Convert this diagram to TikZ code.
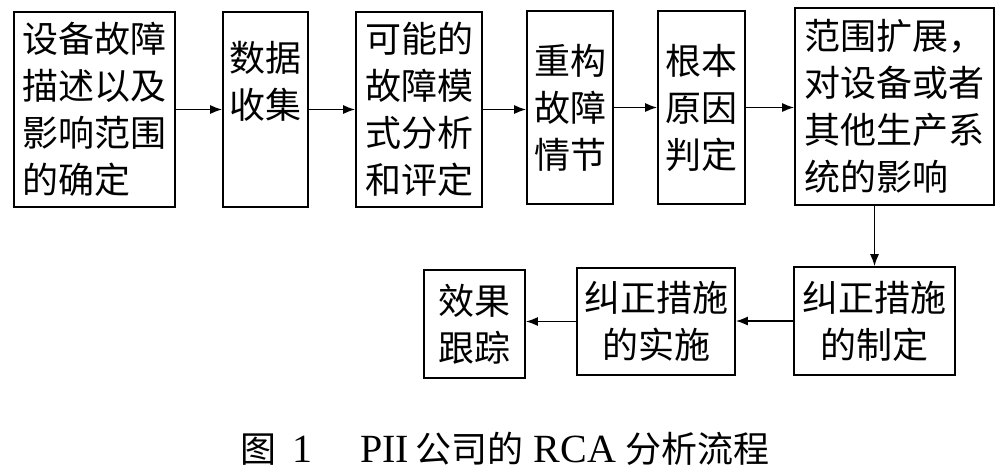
\documentclass[tikz,border=0pt]{standalone}
\usepackage{fontspec}
\setmainfont{Liberation Serif}
\newfontfamily\cjk{Noto Sans CJK SC}
\usetikzlibrary{arrows.meta}
\tikzset{blk/.style={draw,thick,inner sep=0pt,align=center,font=\cjk\fontsize{18}{23.5}\selectfont},
    arr/.style={thick,-{Latex[length=6pt,width=4.5pt]}}}

\begin{document}
\begin{tikzpicture}[x=0.5pt,y=-0.5pt]
    \useasboundingbox (0,0) rectangle (1004,473);
    % top row
    \node[blk,align=left,minimum width=80.5pt,minimum height=97.5pt] (desc) at (94.5,109.5) {设备故障\\描述以及\\影响范围\\的确定};
    \node[blk,minimum width=42.5pt,minimum height=97.5pt] (coll) at (265.5,109.5) {数据\\收集\\[6pt]};
    \node[blk,minimum width=63pt,minimum height=97.5pt] (mode) at (419,109.5) {可能的\\故障模\\式分析\\和评定};
    \node[blk,minimum width=43pt,minimum height=96.5pt] (rebuild) at (570,107.5) {重构\\故障\\情节};
    \node[blk,minimum width=43.5pt,minimum height=96.5pt] (root) at (701.5,107.5) {根本\\原因\\判定};
    \node[blk,align=left,minimum width=99.5pt,minimum height=98.5pt] (scope) at (894.5,106.5) {范围扩展，\\对设备或者\\其他生产系\\统的影响};
    % bottom row
    \node[blk,minimum width=80.5pt,minimum height=54pt] (plan) at (874.5,321) {纠正措施\\的制定};
    \node[blk,minimum width=79pt,minimum height=53.5pt] (act) at (656,321.5) {纠正措施\\的实施};
    \node[blk,minimum width=50.5pt,minimum height=54pt] (track) at (474.5,324) {效果\\跟踪};
    \node[font=\fontsize{20}{20}\selectfont,inner sep=0pt] (cap) at (505,449) {{\cjk\fontsize{18}{18}\selectfont 图}\hspace{0.4em}1\hspace{1.2em}PII\,{\cjk\fontsize{18}{18}\selectfont 公司的}\ RCA\ {\cjk\fontsize{18}{18}\selectfont 分析流程}};

    \draw[arr] (desc) -- (coll);
    \draw[arr] (coll) -- (mode);
    \draw[arr] (mode.east) -- (mode.east -| rebuild.west);
    \draw[arr] (rebuild) -- (root);
    \draw[arr] (root.east) -- (root.east -| scope.west);
    \draw[arr] (plan.north |- scope.south) -- (plan);
    \draw[arr] (plan.west) -- (plan.west -| act.east);
    \draw[arr] (act.west) -- (act.west -| track.east);
\end{tikzpicture}
\end{document}
